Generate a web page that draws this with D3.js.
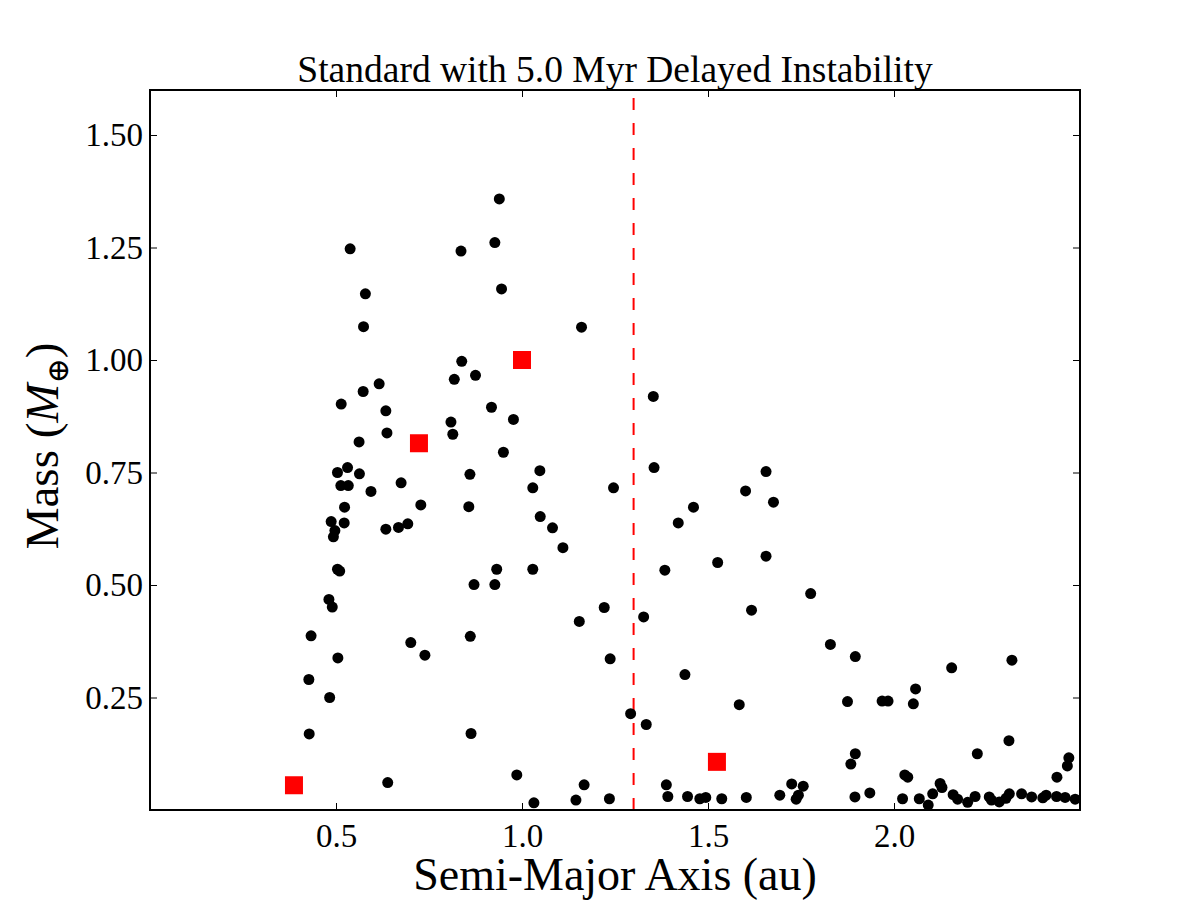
<!DOCTYPE html>
<html>
<head>
<meta charset="utf-8">
<script src="https://cdn.jsdelivr.net/npm/d3@7"></script>
<style>
  body { margin: 0; background: #fff; }
  svg text { font-family: "Liberation Serif", "DejaVu Serif", serif; fill: #000; }
</style>
</head>
<body>
<div id="chart"></div>
<script>
// simulated planets: semi-major axis (au) and mass (Earth masses)
let planetA = [
  0.538, 0.836, 0.579, 0.574, 0.838, 0.818, 0.616, 0.573, 0.514, 0.634,
  0.809, 0.637, 0.814, 0.562, 0.939, 0.927, 0.945, 1.160, 0.875, 1.353,
  0.918, 0.977, 0.950, 0.531, 0.504, 0.563, 0.675, 0.513, 0.533, 0.594,
  0.728, 0.523, 0.487, 0.522, 0.693, 0.634, 0.668, 0.497, 0.493, 0.504,
  0.510, 0.481, 0.490, 0.433, 0.701, 0.739, 0.505, 0.427, 0.483, 0.428,
  0.639, 1.355, 0.860, 1.048, 1.656, 1.029, 1.246, 1.601, 0.857, 1.461,
  1.676, 1.049, 1.420, 1.082, 1.110, 0.932, 1.029, 1.384, 1.526, 1.656,
  0.871, 0.927, 1.221, 1.617, 1.154, 1.327, 0.861, 1.237, 1.438, 1.584,
  1.292, 1.334, 0.863, 0.986, 1.167, 1.388, 1.032, 1.145, 1.235, 1.392,
  1.445, 1.478, 1.494, 1.537, 1.603, 1.776, 1.829, 1.896, 2.155, 2.317,
  1.875, 1.968, 1.984, 2.058, 2.052, 2.309, 2.224, 1.896, 1.884, 2.470,
  2.466, 2.438, 2.029, 2.037, 1.725, 1.756, 1.693, 1.743, 1.737, 1.895,
  1.935, 2.023, 2.068, 2.092, 2.104, 2.124, 2.129, 2.159, 2.171, 2.198,
  2.218, 2.256, 2.262, 2.283, 2.301, 2.310, 2.343, 2.370, 2.400, 2.409,
  2.437, 2.460, 2.487
];
let planetMass = [
  1.247, 1.242, 1.147, 1.074, 0.997, 0.957, 0.947, 0.930, 0.902, 0.887,
  0.862, 0.838, 0.835, 0.818, 1.358, 1.261, 1.158, 1.073, 0.966, 0.919,
  0.895, 0.868, 0.795, 0.761, 0.750, 0.747, 0.727, 0.721, 0.721, 0.708,
  0.678, 0.673, 0.641, 0.638, 0.636, 0.624, 0.628, 0.621, 0.607, 0.535,
  0.531, 0.468, 0.451, 0.387, 0.372, 0.344, 0.338, 0.290, 0.250, 0.169,
  0.061, 0.761, 0.746, 0.754, 0.752, 0.716, 0.716, 0.709, 0.674, 0.673,
  0.684, 0.652, 0.638, 0.627, 0.583, 0.535, 0.535, 0.533, 0.550, 0.564,
  0.501, 0.501, 0.450, 0.444, 0.419, 0.429, 0.386, 0.336, 0.301, 0.234,
  0.214, 0.190, 0.170, 0.078, 0.056, 0.056, 0.016, 0.022, 0.025, 0.030,
  0.030, 0.025, 0.028, 0.025, 0.028, 0.481, 0.368, 0.341, 0.316, 0.333,
  0.241, 0.242, 0.242, 0.269, 0.236, 0.154, 0.125, 0.125, 0.102, 0.116,
  0.098, 0.073, 0.078, 0.073, 0.058, 0.053, 0.033, 0.033, 0.024, 0.029,
  0.038, 0.025, 0.025, 0.011, 0.036, 0.059, 0.050, 0.034, 0.024, 0.017,
  0.030, 0.029, 0.022, 0.018, 0.026, 0.036, 0.036, 0.029, 0.027, 0.033,
  0.030, 0.028, 0.024
];

// solar system terrestrial planets
let solarA = [0.387, 0.723, 1.0, 1.524];
let solarMass = [0.055, 0.815, 1.0, 0.107];

let instabilityA = 1.3;
let xTicks = [0.5, 1.0, 1.5, 2.0];
let yTicks = [0.25, 0.5, 0.75, 1.0, 1.25, 1.5];

let W = 1200, H = 900;
let margin = { top: 90, right: 120, bottom: 90, left: 150 };

let svg = d3.select("#chart").append("svg")
  .attr("width", W)
  .attr("height", H);

let x = d3.scaleLinear().domain([0, 2.5]).range([margin.left, W - margin.right]);
let y = d3.scaleLinear().domain([0, 1.6]).range([H - margin.bottom, margin.top]);

svg.append("clipPath").attr("id", "plot-clip")
  .append("rect")
  .attr("x", margin.left).attr("y", margin.top)
  .attr("width", W - margin.left - margin.right)
  .attr("height", H - margin.top - margin.bottom);

let plot = svg.append("g").attr("clip-path", "url(#plot-clip)");

// dashed instability line (drawn from the bottom up)
plot.append("line")
  .attr("x1", x(instabilityA)).attr("x2", x(instabilityA))
  .attr("y1", y(0)).attr("y2", y(1.6))
  .attr("stroke", "#ff0000")
  .attr("stroke-width", 2)
  .attr("stroke-dasharray", "12,13");

let pts = planetA.map((a, i) => ({ a: a, m: planetMass[i] }));
plot.selectAll(".planet").data(pts)
  .enter().append("circle")
  .attr("class", "planet")
  .attr("cx", d => x(d.a))
  .attr("cy", d => y(d.m))
  .attr("r", 5.5)
  .attr("fill", "#000");

let sq = 18;
let solar = solarA.map((a, i) => ({ a: a, m: solarMass[i] }));
plot.selectAll(".solar").data(solar)
  .enter().append("rect")
  .attr("class", "solar")
  .attr("x", d => x(d.a) - sq / 2)
  .attr("y", d => y(d.m) - sq / 2)
  .attr("width", sq)
  .attr("height", sq)
  .attr("fill", "#ff0000");

// axes with inward ticks on all four sides
function styleAxis(g, showLabels) {
  g.select(".domain").remove();
  g.selectAll(".tick line").attr("stroke", "#000").attr("stroke-width", 1);
  if (showLabels) {
    g.selectAll(".tick text").style("font-size", "33px").attr("fill", "#000");
  } else {
    g.selectAll(".tick text").remove();
  }
  g.attr("font-family", null).attr("font-size", null);
}

svg.append("g")
  .attr("transform", `translate(0,${H - margin.bottom})`)
  .call(d3.axisBottom(x).tickValues(xTicks).tickSize(-7).tickPadding(14)
    .tickFormat(d3.format(".1f")))
  .call(g => styleAxis(g, true));

svg.append("g")
  .attr("transform", `translate(0,${margin.top})`)
  .call(d3.axisTop(x).tickValues(xTicks).tickSize(-7))
  .call(g => styleAxis(g, false));

svg.append("g")
  .attr("transform", `translate(${margin.left},0)`)
  .call(d3.axisLeft(y).tickValues(yTicks).tickSize(-7).tickPadding(7)
    .tickFormat(d3.format(".2f")))
  .call(g => styleAxis(g, true));

svg.append("g")
  .attr("transform", `translate(${W - margin.right},0)`)
  .call(d3.axisRight(y).tickValues(yTicks).tickSize(-7))
  .call(g => styleAxis(g, false));

// frame
svg.append("rect")
  .attr("x", margin.left).attr("y", margin.top)
  .attr("width", W - margin.left - margin.right)
  .attr("height", H - margin.top - margin.bottom)
  .attr("fill", "none")
  .attr("stroke", "#000")
  .attr("stroke-width", 2);

// title
svg.append("text")
  .attr("x", (margin.left + W - margin.right) / 2)
  .attr("y", 82)
  .attr("text-anchor", "middle")
  .style("font-size", "37.5px")
  .text("Standard with 5.0 Myr Delayed Instability");

// x label
svg.append("text")
  .attr("x", (margin.left + W - margin.right) / 2)
  .attr("y", 890)
  .attr("text-anchor", "middle")
  .style("font-size", "46px")
  .text("Semi-Major Axis (au)");

// y label
let yl = svg.append("text")
  .attr("transform", `translate(58,446) rotate(-90)`)
  .attr("text-anchor", "middle")
  .style("font-size", "47px");
yl.append("tspan").text("Mass (");
yl.append("tspan").style("font-style", "italic").text("M");
yl.append("tspan").attr("dy", 10).style("font-size", "30px")
  .style("font-family", "'DejaVu Serif', serif").text("\u2295");
yl.append("tspan").attr("dy", -10).text(")");
</script>
</body>
</html>
